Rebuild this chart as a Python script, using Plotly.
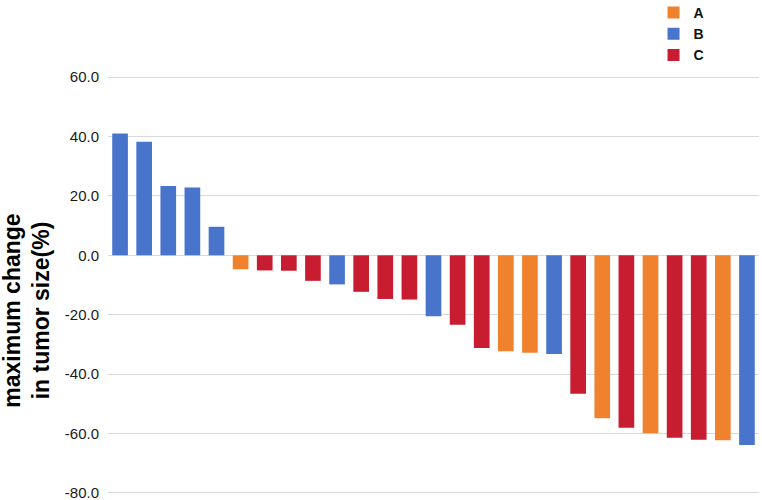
import plotly.graph_objects as go

# Data
patients = list(range(1, 28))
changes = [41.0, 38.2, 23.3, 22.8, 9.6, -4.7, -5.1, -5.2, -8.6, -9.8, -12.3, -14.7, -14.9,
           -20.5, -23.4, -31.2, -32.3, -32.8, -33.2, -46.6, -54.9, -58.1, -59.9, -61.4,
           -62.1, -62.3, -63.9]
groups = ["B", "B", "B", "B", "B", "A", "C", "C", "C", "B", "C", "C", "C",
          "B", "C", "C", "A", "A", "B", "C", "A", "C", "A", "C", "C", "A", "B"]

group_names = ["A", "B", "C"]
group_colors = {"A": "#F0822E", "B": "#4874CB", "C": "#C81D31"}

tick_vals = [60, 40, 20, 0, -20, -40, -60, -80]
tick_text = ["60.0", "40.0", "20.0", "0.0", "-20.0", "-40.0", "-60.0", "-80.0"]

fig = go.Figure()
for g in group_names:
    xs = [p for p, gg in zip(patients, groups) if gg == g]
    ys = [v for v, gg in zip(changes, groups) if gg == g]
    fig.add_trace(go.Bar(
        x=xs, y=ys, name=g, width=0.65,
        marker=dict(color=group_colors[g], line=dict(width=0)),
    ))

fig.update_layout(
    width=762, height=500,
    barmode="overlay",
    plot_bgcolor="white", paper_bgcolor="white",
    margin=dict(l=108, r=3, t=75, b=5, autoexpand=False),
    font=dict(family="Liberation Sans, Arial, sans-serif", color="#1a1a1a"),
    showlegend=True,
    legend=dict(
        x=0.838, xanchor="left",
        y=1.186, yanchor="top",
        font=dict(size=14, color="#111111", family="Liberation Sans, Arial, sans-serif", weight="bold"),
        tracegroupgap=0, itemwidth=30,
        bgcolor="rgba(0,0,0,0)",
    ),
    xaxis=dict(
        range=[0.5, 27.5], showticklabels=False, showgrid=False,
        zeroline=False, showline=False, ticks="",
    ),
    yaxis=dict(
        range=[-80.7, 60.7], tickvals=tick_vals, ticktext=tick_text,
        showgrid=True, gridcolor="#d9d9d9", gridwidth=1.2,
        zeroline=True, zerolinecolor="#d9d9d9", zerolinewidth=1.2,
        showline=False, ticks="", ticklabelstandoff=8,
        ticklabeloverflow="allow",
        tickfont=dict(size=15, color="#1a1a1a"),
    ),
    annotations=[dict(
        text="maximum change<br>in tumor size(%)",
        xref="paper", yref="paper", x=-0.125, y=0.438,
        xanchor="center", yanchor="middle", textangle=-90, showarrow=False,
        font=dict(size=23, color="#000000", family="Liberation Sans, Arial, sans-serif", weight="bold"),
    )],
)

fig.write_html("out.html")
